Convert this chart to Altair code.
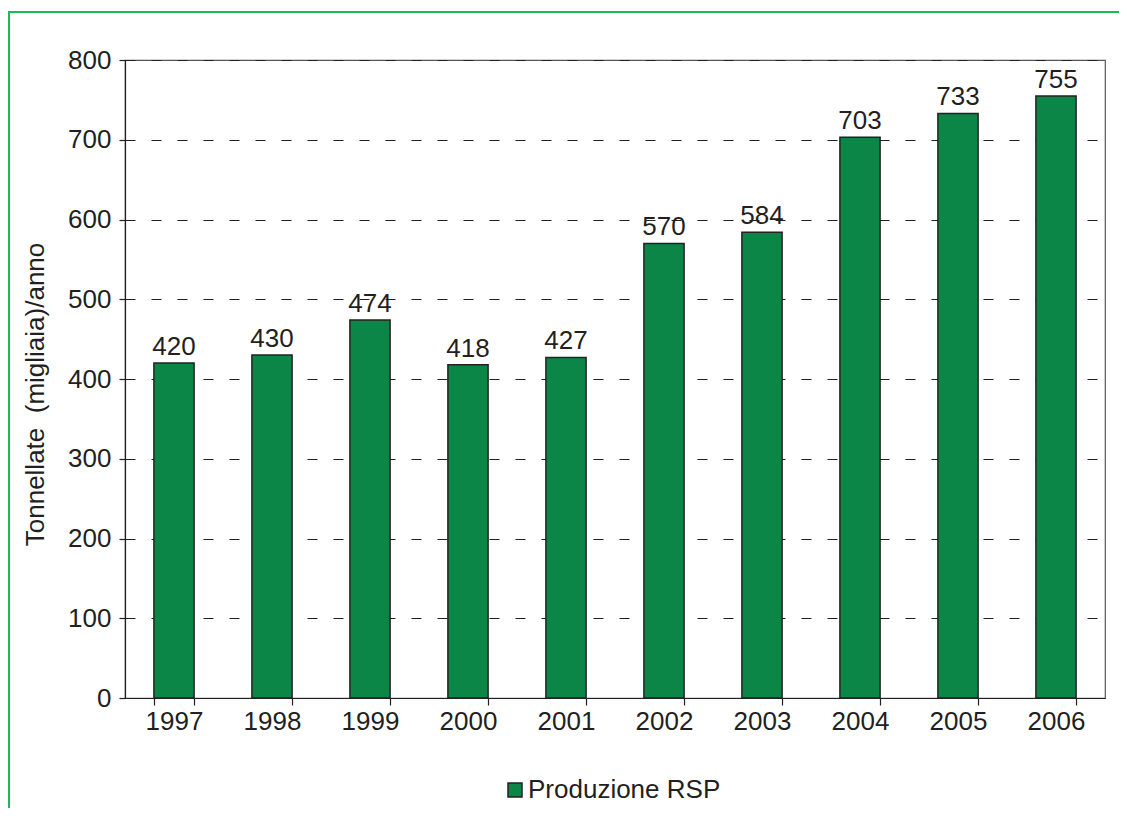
import altair as alt
import pandas as pd

years = ["1997", "1998", "1999", "2000", "2001", "2002", "2003", "2004", "2005", "2006"]
values = [420, 430, 474, 418, 427, 570, 584, 703, 733, 755]
series = ["Produzione RSP"] * len(years)

df = pd.DataFrame({"anno": years, "valore": values, "serie": series})

FONT = "Liberation Sans"
FS = 26
W, H = 980, 638
PAD_L, PAD_T = 117, 52

base = alt.Chart(df)

bars = base.mark_bar(stroke="#222222", strokeWidth=1.5).encode(
    x=alt.X("anno:N", sort=years,
            scale=alt.Scale(paddingInner=0.59, paddingOuter=0.295),
            axis=alt.Axis(title=None, labelAngle=0, labelFontSize=FS, labelFont=FONT,
                          labelColor="#231f20", labelPadding=3, tickBand="extent",
                          tickSize=7, tickColor="#231f20", domainColor="#231f20",
                          tickWidth=1.2, domainWidth=1.2, grid=False)),
    y=alt.Y("valore:Q", scale=alt.Scale(domain=[0, 800]),
            axis=alt.Axis(title="Tonnellate \u00a0(migliaia)/anno",
                          values=[0, 100, 200, 300, 400, 500, 600, 700, 800],
                          labelFontSize=FS, labelFont=FONT, labelColor="#231f20",
                          titleFontSize=FS, titleFont=FONT, titleFontWeight="normal",
                          titleColor="#231f20", titlePadding=19, titleY=334, labelPadding=8,
                          tickSize=6, tickColor="#231f20", domainColor="#231f20",
                          tickWidth=1.2, domainWidth=1.2,
                          grid=True, gridDash=[10, 16], gridColor="#231f20", gridWidth=1.1)),
    color=alt.Color("serie:N", scale=alt.Scale(range=["#0b8646"]),
                    legend=alt.Legend(title=None, orient="none", legendX=377, legendY=717,
                                      symbolType="square", symbolSize=196, symbolStrokeColor="#222222",
                                      symbolStrokeWidth=1.5, labelFontSize=FS, labelFont=FONT,
                                      labelColor="#231f20", labelOffset=0, labelLimit=500)),
)

labels = base.mark_text(baseline="alphabetic", dy=-8, fontSize=FS, font=FONT, color="#231f20").encode(
    x=alt.X("anno:N", sort=years),
    y="valore:Q",
    text="valore:Q",
)

frame = base.mark_rect(fill=None, stroke="#1db954", strokeWidth=1.5).encode(
    x=alt.value(-116), x2=alt.value(1100),
    y=alt.value(-48), y2=alt.value(900),
)

chart = alt.layer(frame, bars, labels).properties(
    width=W, height=H,
    autosize=alt.AutoSizeParams(type="none"),
    padding={"left": PAD_L, "top": PAD_T, "right": 14, "bottom": 110},
).configure_view(stroke="#555555", strokeWidth=1.2)

chart.save("out.html", embed_options={"renderer": "svg", "actions": False})
